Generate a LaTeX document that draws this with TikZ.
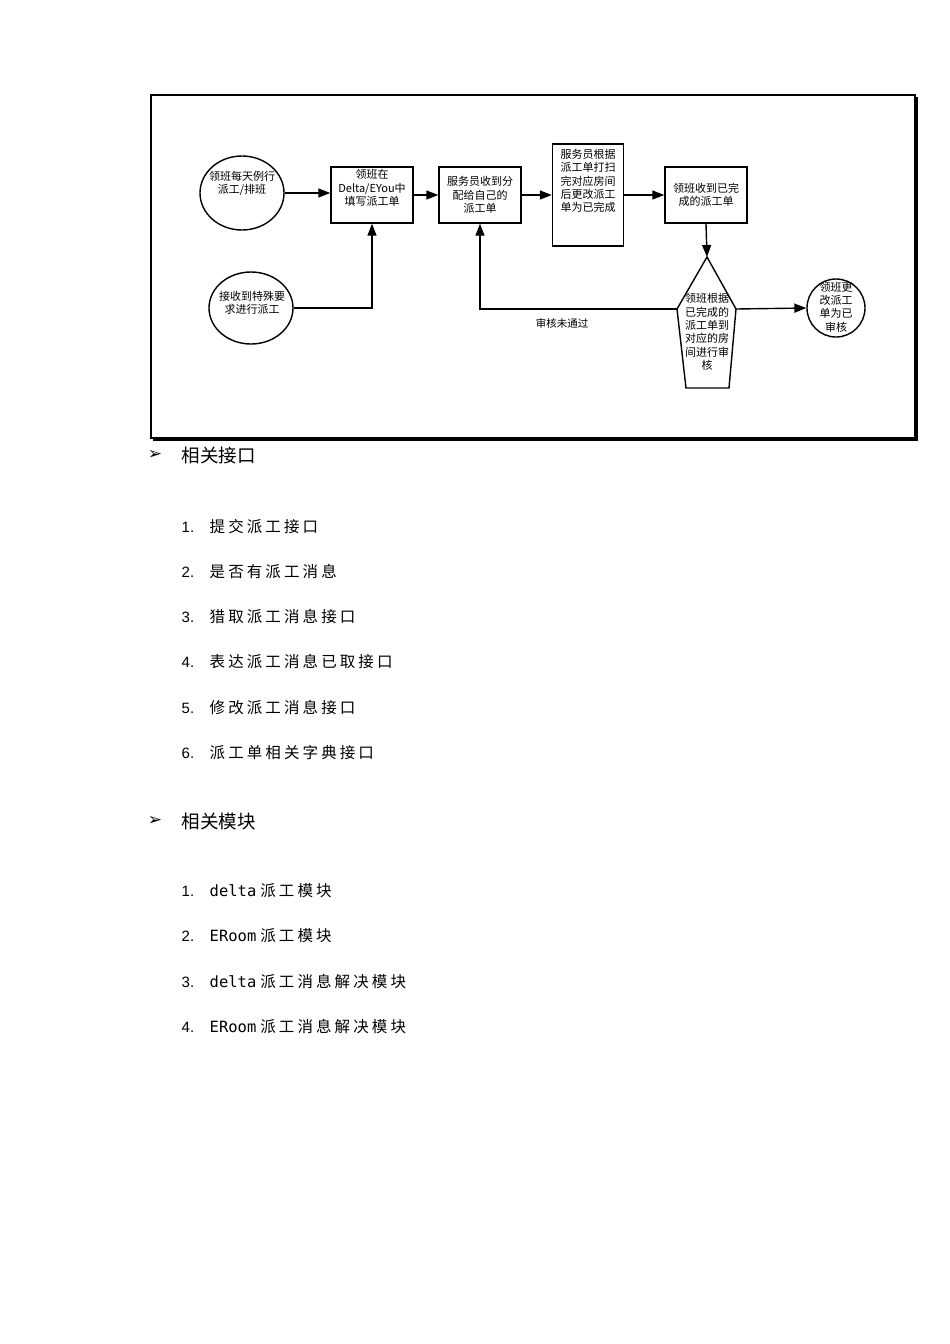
\documentclass[tikz,border=0pt]{standalone}
\usepackage{fontspec}
\setmainfont{Liberation Sans}
\newfontfamily\cjk{Noto Sans CJK SC}
\newfontfamily\cjkwide[LetterSpace=20]{Noto Sans CJK SC}
\newfontfamily\symb{DejaVu Sans}
\newfontfamily\latinmono{DejaVu Sans Mono}
\usetikzlibrary{shapes.geometric,arrows.meta}

\begin{document}
\begin{tikzpicture}
[x=1pt,y=-1pt,
line width=1.4pt,
every node/.style={
  font=\cjk\fontsize{11}{13.3}\selectfont, align=center, inner sep=1pt
},
box/.style={
  draw, minimum width=82, minimum height=56
},
oval/.style={
  draw, ellipse, inner sep=0pt
},
flow/.style={
  -{Triangle[length=12pt,width=9pt]}
},
heading/.style={
  anchor=west, font=\cjk\fontsize{18.5}{20}\selectfont
},
bullet/.style={
  font=\symb\fontsize{17}{18}\selectfont
},
num/.style={
  anchor=west, font=\fontsize{15}{18}\selectfont
},
item/.style={
  anchor=west, font=\cjkwide\fontsize{15.5}{18}\selectfont
}
]

\useasboundingbox (0,0) rectangle (950,1344);

% Frame
\draw[line width=1.5pt] (151,95) rectangle (915,438);
\draw[line width=2pt] (917,97) -- (917,440) -- (153,440);

% Flow chart
\node[oval, minimum width=84, minimum height=74] (daily) at (242,193) {};
\node (dailytext) at (242,183) {领班每天例行\\派工/排班};
\node[box] (fill) at (372,195) {};
\node (filltext) at (372,188) {领班在\\Delta/EYou中\\填写派工单};
\node[box] (recv) at (480,195) {服务员收到分\\配给自己的\\派工单};
\node[box, minimum width=71, minimum height=102] (clean) at (588,195) {};
\node (cleantext) at (588,181) {服务员根据\\派工单打扫\\完对应房间\\后更改派工\\单为已完成};
\node[box] (done) at (706,195) {领班收到已完\\成的派工单};
\node[oval, minimum width=84, minimum height=72] (special) at (251,308) {};
\node (specialtext) at (252,303) {接收到特殊要\\求进行派工};

% Review shape
\coordinate (hexT) at (707,257);
\coordinate (hexR) at (736,309);
\coordinate (hexBR) at (729,388);
\coordinate (hexBL) at (686,388);
\coordinate (hexL) at (677,309);
\draw (hexT) -- (hexR) -- (hexBR) -- (hexBL) -- (hexL) -- cycle;
\node (check) at (707,332) {领班根据\\已完成的\\派工单到\\对应的房\\间进行审\\核};
\node[draw, circle, minimum size=58, inner sep=0pt] (approved) at (836,308) {};
\node (approvedtext) at (836,307) {领班更\\改派工\\单为已\\审核};

% Connectors
\draw[flow] (daily.east) -- (daily.east -| fill.west);
\draw[flow] (fill) -- (recv);
\draw[flow] (recv) -- (clean);
\draw[flow] (clean) -- (done);
\draw[flow] (done.south) -- (hexT);
\draw[flow] (special.east) -| (fill.south);
\draw[flow] (hexL) -| (recv.south);
\draw[flow] (hexR) -- (approved.west);
\node[font=\cjk\fontsize{10.5}{12}\selectfont] (reject) at (562,323) {审核未通过};

% Interfaces
\node[bullet] (b1) at (155,455) {➢};
\node[heading] (ifhead) at (180,455) {相关接口};
\node[num] (n1) at (180,527) {1.};
\node[item] (i1) at (208,527) {提交派工接口};
\node[num] (n2) at (180,572) {2.};
\node[item] (i2) at (208,572) {是否有派工消息};
\node[num] (n3) at (180,617) {3.};
\node[item] (i3) at (208,617) {猎取派工消息接口};
\node[num] (n4) at (180,662) {4.};
\node[item] (i4) at (208,662) {表达派工消息已取接口};
\node[num] (n5) at (180,708) {5.};
\node[item] (i5) at (208,708) {修改派工消息接口};
\node[num] (n6) at (180,753) {6.};
\node[item] (i6) at (208,753) {派工单相关字典接口};

% Modules
\node[bullet] (b2) at (155,821) {➢};
\node[heading] (mdhead) at (180,821) {相关模块};
\node[num] (m1) at (180,891) {1.};
\node[item] (j1) at (208,891) {{\latinmono delta}\hspace{4pt}派工模块};
\node[num] (m2) at (180,936) {2.};
\node[item] (j2) at (208,936) {{\latinmono ERoom}\hspace{4pt}派工模块};
\node[num] (m3) at (180,982) {3.};
\node[item] (j3) at (208,982) {{\latinmono delta}\hspace{4pt}派工消息解决模块};
\node[num] (m4) at (180,1027) {4.};
\node[item] (j4) at (208,1027) {{\latinmono ERoom}\hspace{4pt}派工消息解决模块};

\end{tikzpicture}
\end{document}
